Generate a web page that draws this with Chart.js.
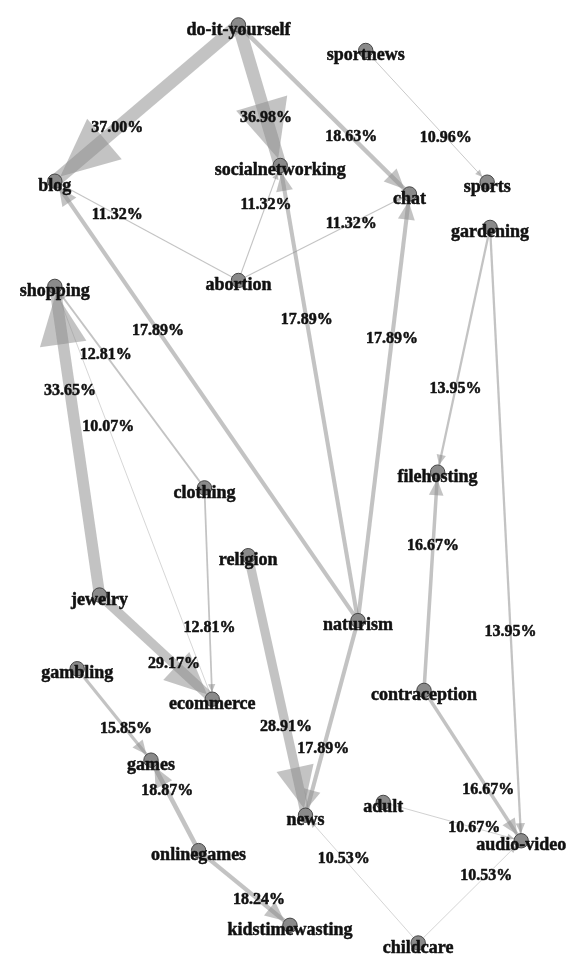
<!DOCTYPE html>
<html>
<head>
<meta charset="utf-8">
<script src="https://cdn.jsdelivr.net/npm/chart.js@4.4.0/dist/chart.umd.min.js"></script>
<style>
  html, body { margin: 0; padding: 0; background: #fff; }
  #wrap { width: 576px; height: 962px; }
</style>
</head>
<body>
<div id="wrap"><canvas id="graphChart" width="576" height="962"></canvas></div>
<script>
// node layout (y grows downward)
var nodeNames = ['do-it-yourself', 'sportnews', 'blog', 'socialnetworking', 'chat', 'sports',
    'gardening', 'abortion', 'shopping', 'filehosting', 'clothing', 'religion', 'jewelry',
    'naturism', 'gambling', 'ecommerce', 'contraception', 'games', 'news', 'adult',
    'audio-video', 'onlinegames', 'kidstimewasting', 'childcare'];
var nodeX = [237, 368, 48, 280, 413, 493, 496, 237, 48, 442, 202, 247, 94,
    360, 71, 210, 428, 147, 306, 386, 528, 196, 290, 422];
var nodeY = [17, 43, 176, 160, 189, 177, 223, 277, 283, 472, 488, 557, 597,
    623, 672, 703, 694, 765, 821, 808, 847, 857, 933, 951];

// directed edges with their share (%)
var edgeFrom = ['do-it-yourself', 'do-it-yourself', 'do-it-yourself', 'sportnews',
    'abortion', 'abortion', 'abortion', 'naturism', 'naturism', 'naturism', 'naturism',
    'gardening', 'gardening', 'clothing', 'clothing', 'jewelry', 'ecommerce', 'jewelry',
    'gambling', 'onlinegames', 'onlinegames', 'religion', 'contraception', 'contraception',
    'adult', 'childcare', 'childcare'];
var edgeTo = ['blog', 'socialnetworking', 'chat', 'sports',
    'blog', 'socialnetworking', 'chat', 'blog', 'socialnetworking', 'chat', 'news',
    'filehosting', 'audio-video', 'shopping', 'ecommerce', 'shopping', 'shopping', 'ecommerce',
    'games', 'games', 'kidstimewasting', 'news', 'filehosting', 'audio-video',
    'audio-video', 'news', 'audio-video'];
var edgeShare = [37.00, 36.98, 18.63, 10.96,
    11.32, 11.32, 11.32, 17.89, 17.89, 17.89, 17.89,
    13.95, 13.95, 12.81, 12.81, 33.65, 10.07, 29.17,
    15.85, 18.87, 18.24, 28.91, 16.67, 16.67,
    10.67, 10.53, 10.53];

var nodeRadius = 7.2;
var edgeColor = 'rgba(140, 140, 140, 0.52)';

function edgeWidth(share) {
    return Math.max(0.7, (share - 9) * 0.46);
}

function edgeEnds(chart, i) {
    var xs = chart.scales.x, ys = chart.scales.y;
    var a = nodeNames.indexOf(edgeFrom[i]), b = nodeNames.indexOf(edgeTo[i]);
    return {
        x1: xs.getPixelForValue(nodeX[a]), y1: ys.getPixelForValue(nodeY[a]),
        x2: xs.getPixelForValue(nodeX[b]), y2: ys.getPixelForValue(nodeY[b])
    };
}

function boldText(ctx, txt, x, y) {
    ctx.strokeText(txt, x, y);
    ctx.fillText(txt, x, y);
}

var graphPlugin = {
    id: 'graphPlugin',
    beforeDatasetsDraw: function(chart) {
        var ctx = chart.ctx;
        ctx.save();
        for (var i = 0; i < edgeFrom.length; i++) {
            var e = edgeEnds(chart, i);
            var w = edgeWidth(edgeShare[i]);
            ctx.strokeStyle = edgeColor;
            ctx.lineWidth = w;
            ctx.beginPath();
            ctx.moveTo(e.x1, e.y1);
            ctx.lineTo(e.x2, e.y2);
            ctx.stroke();

            // arrow head, tip on the target circle
            var dx = e.x2 - e.x1, dy = e.y2 - e.y1;
            var len = Math.sqrt(dx * dx + dy * dy);
            var ux = dx / len, uy = dy / len;
            var L = Math.max(7, w * 4.5), hw = L * 0.46;
            var tx = e.x2 - ux * nodeRadius, ty = e.y2 - uy * nodeRadius;
            var bx = tx - ux * L, by = ty - uy * L;
            ctx.fillStyle = edgeColor;
            ctx.beginPath();
            ctx.moveTo(tx, ty);
            ctx.lineTo(bx - uy * hw, by + ux * hw);
            ctx.lineTo(bx + uy * hw, by - ux * hw);
            ctx.closePath();
            ctx.fill();
        }
        ctx.restore();
    },
    afterDatasetsDraw: function(chart) {
        var ctx = chart.ctx, xs = chart.scales.x, ys = chart.scales.y;
        ctx.save();
        ctx.textAlign = 'center';
        ctx.textBaseline = 'middle';
        ctx.fillStyle = '#111';
        ctx.strokeStyle = '#111';
        ctx.lineWidth = 0.5;
        ctx.lineJoin = 'round';
        // node names
        ctx.font = 'bold 18px "Liberation Serif", "DejaVu Serif", serif';
        for (var n = 0; n < nodeNames.length; n++) {
            boldText(ctx, nodeNames[n], xs.getPixelForValue(nodeX[n]), ys.getPixelForValue(nodeY[n]) + 5);
        }
        // edge shares, two thirds of the way along each edge
        ctx.font = 'bold 16px "Liberation Serif", "DejaVu Serif", serif';
        for (var i = 0; i < edgeFrom.length; i++) {
            var e = edgeEnds(chart, i);
            var lx = e.x1 + (e.x2 - e.x1) * 0.66, ly = e.y1 + (e.y2 - e.y1) * 0.66;
            boldText(ctx, edgeShare[i].toFixed(2) + '%', lx, ly);
        }
        ctx.restore();
    }
};

window.onload = function() {
    var ctx = document.getElementById('graphChart').getContext('2d');
    var points = nodeNames.map(function(name, i) { return { x: nodeX[i], y: nodeY[i] }; });
    new Chart(ctx, {
        type: 'scatter',
        data: {
            datasets: [{
                label: 'sites',
                data: points,
                pointRadius: nodeRadius,
                pointHoverRadius: nodeRadius,
                backgroundColor: '#8a8a8a',
                borderColor: '#454545',
                borderWidth: 1
            }]
        },
        options: {
            responsive: false,
            animation: false,
            layout: { padding: 0 },
            plugins: {
                legend: { display: false },
                tooltip: { enabled: false }
            },
            scales: {
                x: { type: 'linear', min: 0, max: 576, display: false },
                y: { type: 'linear', min: 0, max: 962, reverse: true, display: false }
            }
        },
        plugins: [graphPlugin]
    });
};
</script>
</body>
</html>
